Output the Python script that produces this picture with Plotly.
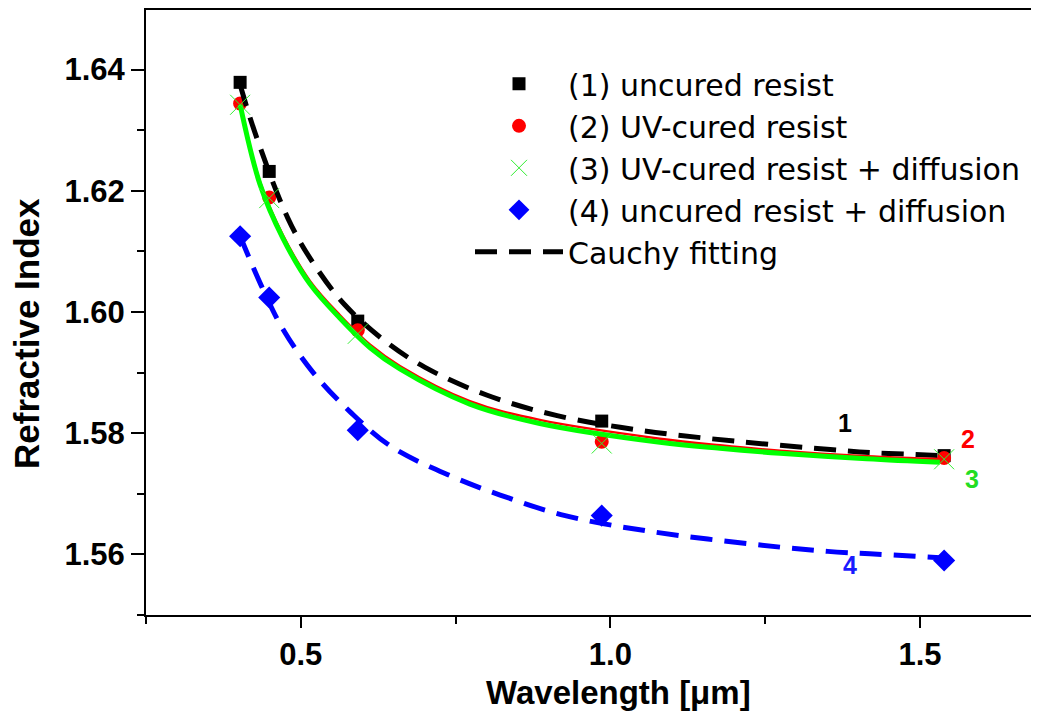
import plotly.graph_objects as go

# ---- data ----
wavelength = [0.402, 0.449, 0.592, 0.986, 1.539]
n_uncured = [1.6379, 1.6232, 1.5985, 1.5820, 1.5763]
n_uv = [1.6344, 1.6189, 1.5970, 1.5786, 1.5759]
n_uv_diff = [1.6342, 1.6188, 1.5964, 1.5783, 1.5757]
n_uncured_diff = [1.6125, 1.6024, 1.5805, 1.5664, 1.5590]

fit1_x = [0.402, 0.426, 0.479, 0.518, 0.571, 0.636, 0.70, 0.80, 0.914, 1.054, 1.20, 1.355, 1.419, 1.492, 1.537]
fit1_y = [1.6375, 1.6296, 1.6155, 1.6084, 1.6012, 1.5952, 1.5909, 1.5863, 1.5829, 1.5804, 1.5787, 1.5773, 1.5768, 1.5765, 1.5763]

fit2_x = [0.402, 0.434, 0.471, 0.515, 0.563, 0.612, 0.660, 0.773, 0.886, 1.080, 1.177, 1.274, 1.414, 1.539]
fit2_y = [1.6344, 1.6215, 1.6127, 1.6051, 1.5995, 1.5946, 1.5911, 1.5853, 1.5822, 1.5791, 1.5780, 1.5771, 1.5762, 1.5757]

fit3_x = [0.402, 0.434, 0.471, 0.515, 0.563, 0.612, 0.660, 0.773, 0.886, 1.080, 1.177, 1.274, 1.414, 1.532]
fit3_y = [1.6342, 1.6211, 1.6122, 1.6046, 1.5990, 1.5941, 1.5906, 1.5848, 1.5816, 1.5785, 1.5775, 1.5767, 1.5758, 1.5752]

fit4_x = [0.402, 0.436, 0.471, 0.520, 0.581, 0.646, 0.741, 0.822, 0.927, 1.064, 1.274, 1.351, 1.419, 1.492, 1.539]
fit4_y = [1.6125, 1.6044, 1.5972, 1.5900, 1.5834, 1.5778, 1.5730, 1.5698, 1.5664, 1.5638, 1.5612, 1.5605, 1.5601, 1.5597, 1.5594]

curve_labels = ["1", "2", "3", "4"]
label_x = [1.379, 1.5775, 1.584, 1.387]
label_y = [1.5817, 1.5791, 1.5725, 1.5582]
label_colors = ["#000000", "#ff0000", "#22dd22", "#1a1aff"]

legend_names = ["(1) uncured resist", "(2) UV-cured resist",
                "(3) UV-cured resist + diffusion", "(4) uncured resist + diffusion",
                "Cauchy fitting"]

x_title = "Wavelength [μm]"
y_title = "Refractive Index"

FONT = "Liberation Sans, Arial, sans-serif"
LEGEND_FONT = "DejaVu Sans, Liberation Sans, sans-serif"

fig = go.Figure()

fig.add_trace(go.Scatter(x=wavelength, y=n_uncured, mode="markers", name=legend_names[0],
                         legendrank=1,
                         marker=dict(symbol="square", size=13, color="#000000")))
fig.add_trace(go.Scatter(x=wavelength, y=n_uv, mode="markers", name=legend_names[1],
                         legendrank=2,
                         marker=dict(symbol="circle", size=14, color="#ff0000")))

fig.add_trace(go.Scatter(x=fit1_x, y=fit1_y, mode="lines", name=legend_names[4],
                         legendrank=5, line_shape="spline",
                         line=dict(color="#000000", width=5, dash="22px,12px")))
fig.add_trace(go.Scatter(x=fit4_x, y=fit4_y, mode="lines", showlegend=False,
                         line_shape="spline",
                         line=dict(color="#0000ff", width=5, dash="22px,12px")))
fig.add_trace(go.Scatter(x=fit2_x, y=fit2_y, mode="lines", showlegend=False,
                         line_shape="spline",
                         line=dict(color="#ff0000", width=2.5)))
fig.add_trace(go.Scatter(x=fit3_x, y=fit3_y, mode="lines", showlegend=False,
                         line_shape="spline",
                         line=dict(color="#00ff00", width=5)))

fig.add_trace(go.Scatter(x=wavelength, y=n_uv_diff, mode="markers", name=legend_names[2],
                         legendrank=3,
                         marker=dict(symbol="x-thin", size=20, color="#33ee33",
                                     line=dict(color="#33ee33", width=1))))
fig.add_trace(go.Scatter(x=wavelength, y=n_uncured_diff, mode="markers", name=legend_names[3],
                         legendrank=4,
                         marker=dict(symbol="diamond", size=17, color="#0000ff")))

for t, lx, ly, c in zip(curve_labels, label_x, label_y, label_colors):
    fig.add_annotation(x=lx, y=ly, text=t, showarrow=False, xref="x", yref="y",
                       font=dict(family=FONT, size=25, color=c, weight="bold"))

# axis titles placed as annotations (paper coordinates)
fig.add_annotation(x=0.5286, y=-0.1285, xref="paper", yref="paper", text=x_title,
                   showarrow=False, xanchor="center", yanchor="middle",
                   font=dict(family=FONT, size=33, color="#000000", weight="bold"))
fig.add_annotation(x=-0.1333, y=0.4662, xref="paper", yref="paper", text=y_title,
                   showarrow=False, xanchor="center", yanchor="middle", textangle=-90,
                   font=dict(family=FONT, size=35, color="#000000", weight="bold"))

axis_font = dict(family=FONT, size=31, color="#000000", weight="bold")

fig.update_layout(
    width=1031, height=703,
    margin=dict(l=138, r=0, t=0, b=96),
    paper_bgcolor="white", plot_bgcolor="white",
    showlegend=True,
    legend=dict(x=(462 - 138) / 893, xanchor="left", y=0.9209, yanchor="top",
                bgcolor="rgba(0,0,0,0)", borderwidth=0, itemwidth=88,
                font=dict(family=LEGEND_FONT, size=30, color="#000000"),
                tracegroupgap=0),
    xaxis=dict(range=[0.25, 1.6922], tick0=0, dtick=0.5, tickformat=".1f",
               ticks="outside", ticklen=11, tickwidth=2, tickcolor="#000000",
               showline=True, linewidth=2, linecolor="#000000", mirror=True,
               showgrid=False, zeroline=False, tickfont=axis_font,
               minor=dict(ticks="outside", ticklen=7, tickwidth=2, tickcolor="#000000",
                          dtick=0.25, tick0=0, showgrid=False)),
    yaxis=dict(range=[1.55, 1.64984], tick0=1.56, dtick=0.02, tickformat=".2f",
               ticks="outside", ticklen=13, tickwidth=2, tickcolor="#000000",
               showline=True, linewidth=2, linecolor="#000000",
               showgrid=False, zeroline=False, tickfont=axis_font,
               minor=dict(ticks="outside", ticklen=7, tickwidth=2, tickcolor="#000000",
                          dtick=0.01, tick0=1.55, showgrid=False)),
    yaxis2=dict(overlaying="y", side="right", anchor="x", range=[1.55, 1.64984],
                tick0=1.56, dtick=0.02, ticks="inside", ticklen=10, tickwidth=2,
                tickcolor="#000000", showticklabels=False, showline=False,
                showgrid=False, zeroline=False,
                minor=dict(ticks="inside", ticklen=5, tickwidth=2, tickcolor="#000000",
                           dtick=0.01, tick0=1.55, showgrid=False)),
)

fig.write_html("out.html")
